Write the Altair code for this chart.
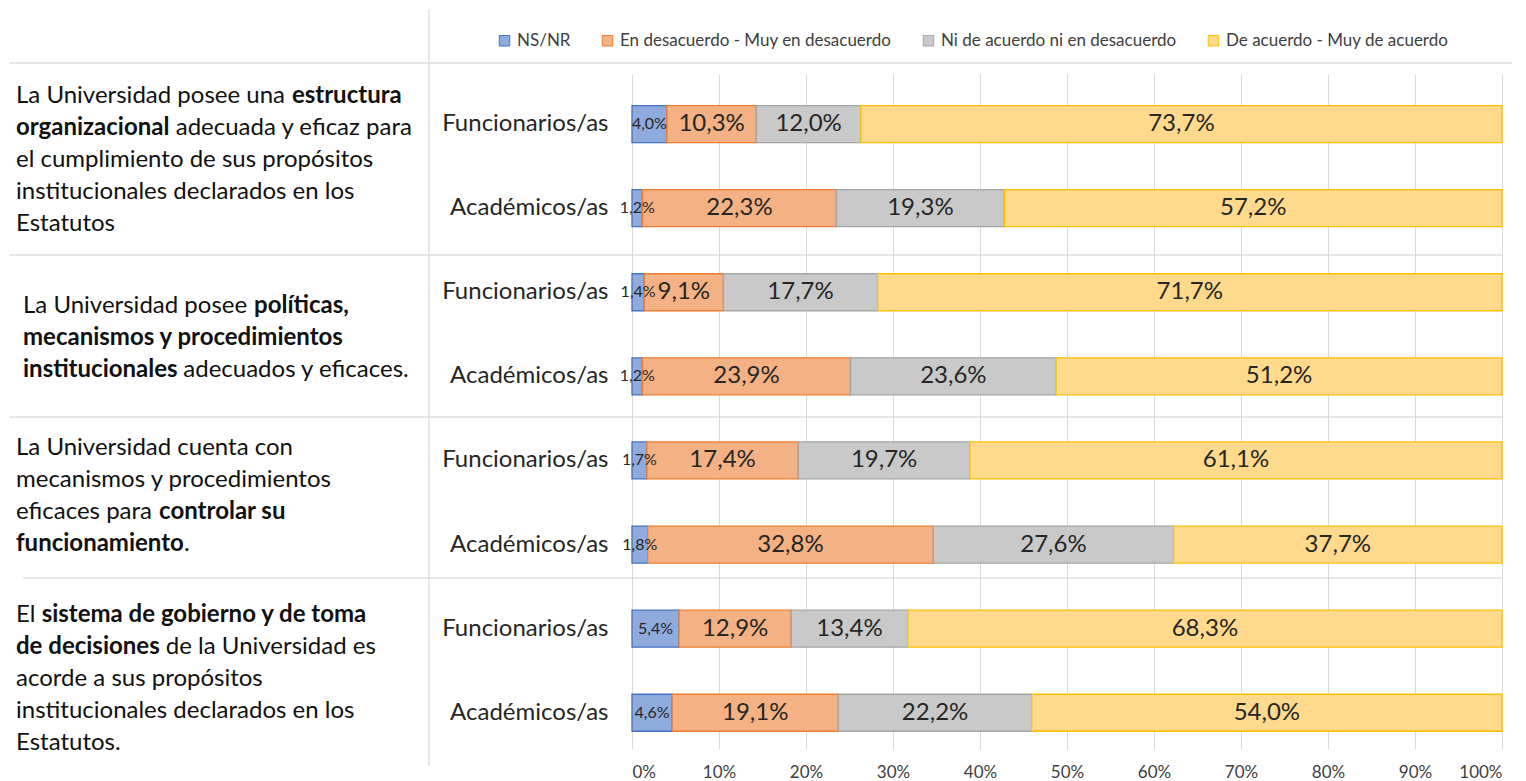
import glob
import os
import struct

import altair as alt
import pandas as pd

# ---------------- data ----------------
categories = ["NS/NR", "En desacuerdo - Muy en desacuerdo",
              "Ni de acuerdo ni en desacuerdo", "De acuerdo - Muy de acuerdo"]
respondents = ["Funcionarios/as", "Académicos/as"]
ns_nr = [4.0, 1.2, 1.4, 1.2, 1.7, 1.8, 5.4, 4.6]
desacuerdo = [10.3, 22.3, 9.1, 23.9, 17.4, 32.8, 12.9, 19.1]
neutral = [12.0, 19.3, 17.7, 23.6, 19.7, 27.6, 13.4, 22.2]
acuerdo = [73.7, 57.2, 71.7, 51.2, 61.1, 37.7, 68.3, 54.0]

statements = [
    [[("La Universidad posee una ", False), ("estructura", True)],
     [("organizacional", True), (" adecuada y eficaz para", False)],
     [("el cumplimiento de sus propósitos", False)],
     [("institucionales declarados en los", False)],
     [("Estatutos", False)]],
    [[("La Universidad posee ", False), ("políticas,", True)],
     [("mecanismos y procedimientos", True)],
     [("institucionales", True), (" adecuados y eficaces.", False)]],
    [[("La Universidad cuenta con", False)],
     [("mecanismos y procedimientos", False)],
     [("eficaces para ", False), ("controlar su", True)],
     [("funcionamiento", True), (".", False)]],
    [[("El ", False), ("sistema de gobierno y de toma", True)],
     [("de decisiones", True), (" de la Universidad es", False)],
     [("acorde a sus propósitos", False)],
     [("institucionales declarados en los", False)],
     [("Estatutos.", False)]],
]

# ---------------- font metrics (for mixed bold / regular lines) ----------------
FONT = "Lato"


def find_font(fname):
    dirs = ["/usr/share/fonts", "/usr/local/share/fonts",
            os.path.expanduser("~/.fonts"), os.path.expanduser("~/.local/share/fonts")]
    for d in dirs:
        for p in glob.glob(os.path.join(d, "**", "*"), recursive=True):
            if os.path.basename(p).lower() == fname:
                return p
    return None


def load_metrics(path):
    data = open(path, "rb").read()
    num = struct.unpack(">H", data[4:6])[0]
    tables = {}
    for i in range(num):
        tag, _, off, ln = struct.unpack(">4sIII", data[12 + 16 * i:28 + 16 * i])
        tables[tag.decode("latin1")] = off
    upem = struct.unpack(">H", data[tables["head"] + 18:tables["head"] + 20])[0]
    nhm = struct.unpack(">H", data[tables["hhea"] + 34:tables["hhea"] + 36])[0]
    h = tables["hmtx"]
    adv = [struct.unpack(">H", data[h + 4 * i:h + 4 * i + 2])[0] for i in range(nhm)]
    c = tables["cmap"]
    nsub = struct.unpack(">H", data[c + 2:c + 4])[0]
    best = None
    for i in range(nsub):
        pid, eid, so = struct.unpack(">HHI", data[c + 4 + 8 * i:c + 12 + 8 * i])
        fmt = struct.unpack(">H", data[c + so:c + so + 2])[0]
        if fmt == 4 and pid in (0, 3):
            best = c + so
    cmap = {}
    o = best
    segx2 = struct.unpack(">H", data[o + 6:o + 8])[0]
    seg = segx2 // 2
    ends = struct.unpack(">%dH" % seg, data[o + 14:o + 14 + segx2])
    starts = struct.unpack(">%dH" % seg, data[o + 16 + segx2:o + 16 + 2 * segx2])
    deltas = struct.unpack(">%dh" % seg, data[o + 16 + 2 * segx2:o + 16 + 3 * segx2])
    rpos = o + 16 + 3 * segx2
    roffs = struct.unpack(">%dH" % seg, data[rpos:rpos + segx2])
    for i in range(seg):
        for ch in range(starts[i], min(ends[i], 0x2FFF) + 1):
            if roffs[i] == 0:
                g = (ch + deltas[i]) & 0xFFFF
            else:
                a = rpos + 2 * i + roffs[i] + 2 * (ch - starts[i])
                g = struct.unpack(">H", data[a:a + 2])[0]
                if g:
                    g = (g + deltas[i]) & 0xFFFF
            cmap[ch] = g
    return upem, adv, cmap


METRICS = {}
for bold, fname in ((False, "lato-regular.ttf"), (True, "lato-bold.ttf")):
    try:
        p = find_font(fname)
        if p:
            METRICS[bold] = load_metrics(p)
    except Exception:
        pass


def text_width(s, size, bold=False):
    m = METRICS.get(bold)
    if m:
        upem, adv, cmap = m
        tot = 0
        for ch in s:
            g = cmap.get(ord(ch), 0)
            tot += adv[min(g, len(adv) - 1)]
        return tot / upem * size
    tot = 0.0
    for ch in s:
        if ch == " ":
            tot += 0.19
        elif ch in "ijlft.,;:!|'í":
            tot += 0.27
        elif ch in "mwMW":
            tot += 0.8
        elif ch.isupper():
            tot += 0.64
        else:
            tot += 0.52
    return tot * size * (1.06 if bold else 1.0)


# ---------------- layout ----------------
W, H = 870, 675
P_IN, P_OUT, ALIGN = 0.56, 0.293, 0.64
n_rows = 8

line1_w = sum(text_width(t, 1, b) for t, b in statements[0][0])
STMT_SIZE = max(17.0, min(24.0, 390.0 / line1_w)) if line1_w > 0 else 20.0
LINE_H = 32.0
stmt_x0 = [-616, -609, -616, -616]
stmt_center = [86, 264, 422, 605]   # vertical centre of each statement cell

stmt_recs = []
for g, lines in enumerate(statements):
    n = len(lines)
    for k, segs in enumerate(lines):
        y = stmt_center[g] + (k - (n - 1) / 2) * LINE_H
        x = stmt_x0[g]
        for t, b in segs:
            lead = len(t) - len(t.lstrip(" "))
            shown = t.strip(" ")
            xs = x + text_width(" " * lead, STMT_SIZE, b)
            stmt_recs.append({"px": xs, "py": y, "t": shown, "bold": b})
            x += text_width(t, STMT_SIZE, b)
stmt_df = pd.DataFrame(stmt_recs)

# ---------------- bar data table ----------------
rows = []
row_keys = []
series = [ns_nr, desacuerdo, neutral, acuerdo]
for i in range(n_rows):
    key = f"{i // 2 + 1}|{respondents[i % 2]}"
    row_keys.append(key)
    for j, cat in enumerate(categories):
        rows.append({"row": key, "cat": cat, "order": j, "value": series[j][i]})
df = pd.DataFrame(rows)

fills = ["#8faadc", "#f4b183", "#c9c9c9", "#ffd98c"]
strokes = ["#4472c4", "#ed7d31", "#a5a5a5", "#ffc000"]

legend = alt.Legend(
    title=None, orient="none", legendX=-136, legendY=-42, direction="horizontal",
    symbolType="square", symbolSize=110, symbolStrokeWidth=1,
    labelFont=FONT, labelFontSize=17, labelColor="#404040", labelLimit=0,
    labelOffset=4, columnPadding=28,
)

base = alt.Chart(df).transform_stack(
    stack="value", groupby=["row"], sort=[alt.SortField("order")],
    as_=["x0", "x1"], offset="normalize",
).transform_calculate(
    xm="(datum.x0 + datum.x1) / 2",
    label="replace(format(datum.value, '.1f'), '.', ',') + '%'",
    fs="datum.value < 6 ? 16 : 24",
)

y_enc = alt.Y(
    "row:N", sort=row_keys,
    scale=alt.Scale(paddingInner=P_IN, paddingOuter=P_OUT, align=ALIGN),
    axis=alt.Axis(title=None, labelExpr="split(datum.label, '|')[1]",
                  labelFont=FONT, labelFontSize=24, labelColor="#262626",
                  labelPadding=24, ticks=False, domain=False, grid=False),
)

bars = base.mark_bar(strokeWidth=1.3).encode(
    x=alt.X("x0:Q", scale=alt.Scale(domain=[0, 1]),
            axis=alt.Axis(title=None, format=".0%",
                          values=[i / 10 for i in range(11)],
                          grid=True, gridColor="#d9d9d9", domain=False, ticks=False,
                          labelFont=FONT, labelFontSize=17, labelColor="#404040",
                          labelPadding=15)),
    x2="x1:Q",
    y=y_enc,
    color=alt.Color("cat:N", sort=categories,
                    scale=alt.Scale(domain=categories, range=fills), legend=legend),
    stroke=alt.Stroke("cat:N", sort=categories,
                      scale=alt.Scale(domain=categories, range=strokes), legend=legend),
)

labels = base.mark_text(font=FONT, color="#262626", baseline="middle").encode(
    x="xm:Q",
    y=alt.Y("row:N", sort=row_keys),
    text="label:N",
    size=alt.Size("fs:Q", scale=None),
)

normal_txt = alt.Chart(stmt_df[~stmt_df["bold"]]).mark_text(
    align="left", baseline="middle", font=FONT, fontSize=STMT_SIZE, color="#111111"
).encode(
    x=alt.X("px:Q", scale=None, axis=None),
    y=alt.Y("py:Q", scale=None, axis=None),
    text="t:N",
)
bold_txt = alt.Chart(stmt_df[stmt_df["bold"]]).mark_text(
    align="left", baseline="middle", font=FONT, fontSize=STMT_SIZE,
    fontWeight="bold", color="#111111"
).encode(
    x=alt.X("px:Q", scale=None, axis=None),
    y=alt.Y("py:Q", scale=None, axis=None),
    text="t:N",
)

# separators (decoration)
sep_df = pd.DataFrame({
    "xa": [-623, -623, -623, -609, -203],
    "xb": [880, W, W, W, -203],
    "ya": [-11, 181, 343, 504, -65],
    "yb": [-11, 181, 343, 504, 692],
})
seps = alt.Chart(sep_df).mark_rule(color="#d0d0d0", strokeWidth=1).encode(
    x=alt.X("xa:Q", scale=None, axis=None), x2="xb:Q",
    y=alt.Y("ya:Q", scale=None, axis=None), y2="yb:Q",
)

chart = alt.layer(seps, bars, labels, normal_txt, bold_txt).properties(
    width=W, height=H, padding=0, background="white",
).configure_view(stroke=None)

chart.save("out.html", embed_options={"renderer": "svg", "actions": False})
